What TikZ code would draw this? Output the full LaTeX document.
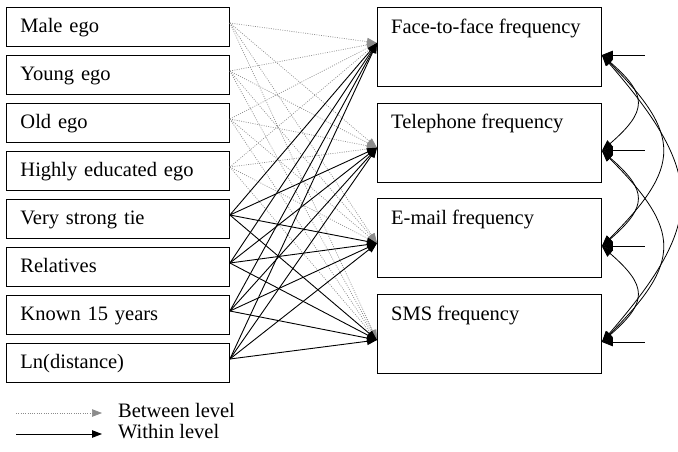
\documentclass[tikz,border=0pt]{standalone}
\usepackage{fontspec}
\setmainfont{Liberation Serif}
\usetikzlibrary{arrows.meta,calc}
\definecolor{dotgray}{HTML}{8C8C8C}
\begin{document}
\begin{tikzpicture}[x=1pt,y=-1pt,
  txt/.style={font=\fontsize{20.5pt}{24pt}\selectfont},
  inbox/.style={draw, line width=0.9pt, minimum width=223pt, minimum height=38.5pt,
    anchor=north west, inner xsep=14pt, inner ysep=0pt, text width=195pt, align=left,
    text height=14.5pt, text depth=3.5pt, txt},
  outbox/.style={draw, line width=0.9pt, minimum width=224pt, minimum height=79pt,
    anchor=north west, inner sep=0pt,
    label={[txt, anchor=base west, inner sep=0pt, xshift=14pt, yshift=-26pt]north west:#1}},
  between/.style={dotgray, line width=0.7pt, dash pattern=on 0.9pt off 1.4pt,
    -{Triangle[length=10pt,width=7.5pt]}},
  within/.style={black, line width=0.9pt, -{Triangle[length=10pt,width=7.5pt]}},
  resid/.style={black, line width=0.9pt, -{Triangle[length=11pt,width=8.5pt]}},
  corr/.style={black, line width=0.8pt,
    {Triangle[length=11pt,width=8.5pt]}-{Triangle[length=11pt,width=8.5pt]}},
]
\useasboundingbox (0,0) rectangle (678,451);

% predictors
\node[inbox] (l1) at (6,7)   {Male ego};
\node[inbox] (l2) at (6,55)  {Young ego};
\node[inbox] (l3) at (6,103) {Old ego};
\node[inbox] (l4) at (6,151) {Highly educated ego};
\node[inbox] (l5) at (6,199) {Very strong tie};
\node[inbox] (l6) at (6,247) {Relatives};
\node[inbox] (l7) at (6,295) {Known 15 years};
\node[inbox] (l8) at (6,343) {Ln(distance)};

% outcomes
\node[outbox={Face-to-face frequency}] (o1) at (377,7)     {};
\node[outbox={Telephone frequency}]    (o2) at (377,102.7) {};
\node[outbox={E-mail frequency}]       (o3) at (377,198.3) {};
\node[outbox={SMS frequency}]          (o4) at (377,294)   {};

% between-level paths
\foreach \i in {1,...,4}
  \foreach \j/\o in {1/36,2/45,3/45,4/46}
    \draw[between] ($(l\i.north east)+(0,16)$) -- ($(o\j.north west)+(0,\o)$);

% within-level paths
\foreach \i in {5,...,8}
  \foreach \j/\o in {1/36,2/45,3/45,4/46}
    \draw[within] ($(l\i.north east)+(0,16)$) -- ($(o\j.north west)+(0,\o)$);

% residual terms
\foreach \j in {1,...,4} {
  \coordinate (p\j) at ($(o\j.north east)+(0,48)$);
  \coordinate (e\j) at ($(o\j.north east)+(43,48)$);
  \draw[resid] (e\j) -- (p\j);
}

% residual covariances
\draw[corr] (p1) .. controls +(46,40) and +(46,-40) .. (p2);
\draw[corr] (p2) .. controls +(46,40) and +(46,-40) .. (p3);
\draw[corr] (p3) .. controls +(46,40) and +(46,-40) .. (p4);
\draw[corr] (p1) .. controls +(80,80) and +(80,-80) .. (p3);
\draw[corr] (p2) .. controls +(80,80) and +(80,-80) .. (p4);
\draw[corr] (p1) .. controls +(104,120) and +(104,-120) .. (p4);

% legend
\coordinate (ka) at (16,413);
\coordinate (kb) at (102,413);
\coordinate (kc) at (16,434);
\coordinate (kd) at (102,434);
\draw[between] (ka) -- (kb);
\draw[within] (kc) -- (kd);
\node[txt, anchor=base west, inner sep=0pt] (kt1) at (118,417) {Between level};
\node[txt, anchor=base west, inner sep=0pt] (kt2) at (118,438) {Within level};
\end{tikzpicture}
\end{document}
